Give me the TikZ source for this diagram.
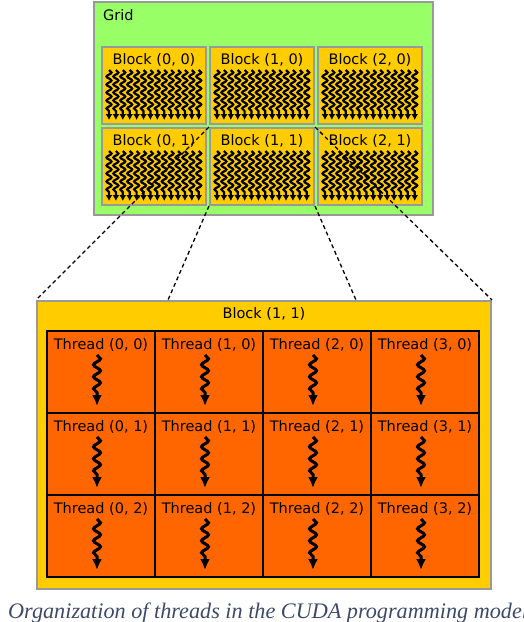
\documentclass[tikz,border=0pt]{standalone}
\usepackage{fontspec}
\setmainfont{DejaVu Sans}
\newfontfamily\capfont{Liberation Serif}
\usetikzlibrary{arrows.meta,positioning,calc,decorations.pathmorphing}
\definecolor{gridgreen}{RGB}{153,255,102}
\definecolor{blockgold}{RGB}{255,204,0}
\definecolor{threadorange}{RGB}{255,102,0}
\definecolor{framegray}{RGB}{153,153,153}
\definecolor{capblue}{RGB}{61,74,102}

\begin{document}
\begin{tikzpicture}[x=1pt,y=-1pt,
  gridbox/.style={draw=framegray,line width=2pt,fill=gridgreen,anchor=north west,
    minimum width=339pt,minimum height=213pt},
  blockbox/.style={draw=framegray,line width=2pt,fill=blockgold,anchor=north west,
    minimum width=104pt,minimum height=77pt},
  bigblock/.style={draw=framegray,line width=2pt,fill=blockgold,anchor=north west,
    minimum width=454pt,minimum height=288pt},
  threadbox/.style={draw=black,line width=2pt,fill=threadorange,anchor=north west,
    minimum width=108pt,minimum height=82pt},
  lbl/.style={font=\fontsize{14.5}{16}\selectfont,inner sep=0pt,anchor=base},
  tinythread/.style={line width=2.2pt,-{Latex[length=6pt,width=7pt]},
    decorate,decoration={snake,amplitude=2.5pt,segment length=8pt,post length=6pt}},
  threadarrow/.style={line width=3pt,-{Latex[length=11pt,width=10pt]},
    decorate,decoration={snake,amplitude=3.5pt,segment length=12pt,post length=9pt}},
  zoomline/.style={draw=black,line width=1.3pt,dash pattern=on 4pt off 3pt}
]
\useasboundingbox (0,0) rectangle (524,622);

% the grid of blocks
\node[gridbox] (grid) at (93,1) {};
\node[lbl,anchor=base west] (gridlbl) at (103,20) {Grid};
\foreach \i in {0,1,2}{
  \foreach \j in {0,1}{
    \node[blockbox] (b\i\j) at (101+108*\i,46+81*\j) {};
    \node[lbl] at ($(b\i\j.north)+(0,18)$) {Block (\i, \j)};
    \foreach \k in {0,...,13}
      \draw[tinythread] ($(b\i\j.north west)+(8+6.9*\k,24)$) -- ++(0,50);
  }
}

% block (1, 1) zoomed in
\node[bigblock] (big) at (36,300) {};
\node[lbl] (biglbl) at ($(big.north)+(0,18)$) {Block (1, 1)};
\foreach \c in {0,...,3}{
  \foreach \r in {0,1,2}{
    \node[threadbox] (t\c\r) at (46+108*\c,330+82*\r) {};
    \node[lbl] at ($(t\c\r.north)+(0,19)$) {Thread (\c, \r)};
    \draw[threadarrow] ($(t\c\r.north west)+(51,25)$) -- ++(0,51);
  }
}

\coordinate (bigl) at ($(big.north west)+(132,0)$);
\coordinate (bigr) at ($(big.north west)+(320,0)$);
\draw[zoomline] (b11.north west) -- (big.north west);
\draw[zoomline] (b11.north east) -- (big.north east);
\draw[zoomline] (b11.south west) -- (bigl);
\draw[zoomline] (b11.south east) -- (bigr);

% caption
\node[font=\capfont\itshape\fontsize{22.2}{25}\selectfont,text=capblue,
  inner sep=0pt,anchor=base west] (cap) at (8,618)
  {Organization of threads in the CUDA programming model};
\end{tikzpicture}
\end{document}
